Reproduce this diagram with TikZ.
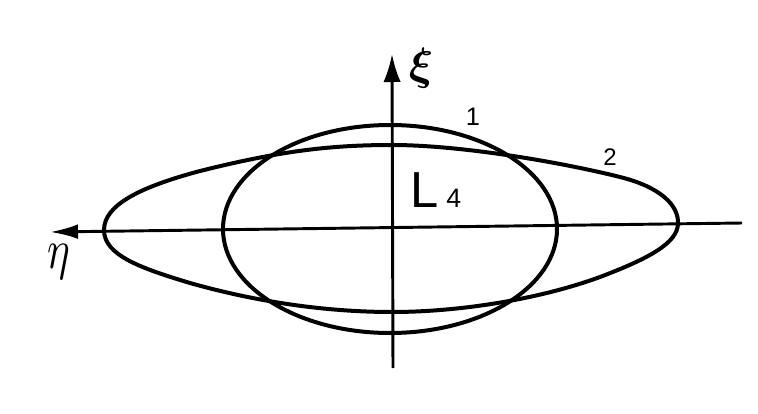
\documentclass[tikz,border=0pt]{standalone}
\usepackage{fontspec}
\setmainfont{Liberation Sans}
\usepackage{bm}
\usetikzlibrary{arrows.meta}
\begin{document}
\begin{tikzpicture}[x=0.75pt,y=-0.75pt,
  curve/.style={line width=3pt},
  axisline/.style={line width=2.2pt},
  lbl/.style={inner sep=0pt}]
\useasboundingbox (0,0) rectangle (758,414);
\coordinate (xr) at (742,223);
\coordinate (xl) at (50,232);
\coordinate (yb) at (393,368);
\coordinate (yt) at (392,54);
\draw[axisline,-{Latex[length=21pt,width=11pt]}] (xr) -- (xl);
\draw[axisline,-{Latex[length=21pt,width=13pt]}] (yb) -- (yt);
% curve 1
\draw[curve] (390,229) ellipse [x radius=167, y radius=104];
% curve 2
\draw[curve] (104,230)
  .. controls (104,205) and (140,187) .. (200,171)
  .. controls (280,151) and (330,145) .. (392,145)
  .. controls (460,145) and (560,162) .. (620,177)
  .. controls (660,187) and (679,205) .. (678,224)
  .. controls (677,243) and (650,258) .. (600,277)
  .. controls (540,299) and (460,312) .. (392,312)
  .. controls (320,312) and (250,300) .. (190,283)
  .. controls (140,268) and (104,255) .. (104,230) -- cycle;
% labels
\node[lbl,scale=3.4] (xi) at (421,68) {$\bm{\xi}$};
\node[lbl,yscale=4.2,xscale=3.2] (eta) at (59,262) {$\eta$};
\node[lbl] (one) at (473,117) {\fontsize{19}{19}\selectfont 1};
\node[lbl] (two) at (610,157) {\fontsize{18}{18}\selectfont 2};
\node[lbl,anchor=base west] (L4) at (410,207) {\fontsize{38}{38}\selectfont L\hspace{6pt}\fontsize{20}{20}\selectfont 4};
\end{tikzpicture}
\end{document}
